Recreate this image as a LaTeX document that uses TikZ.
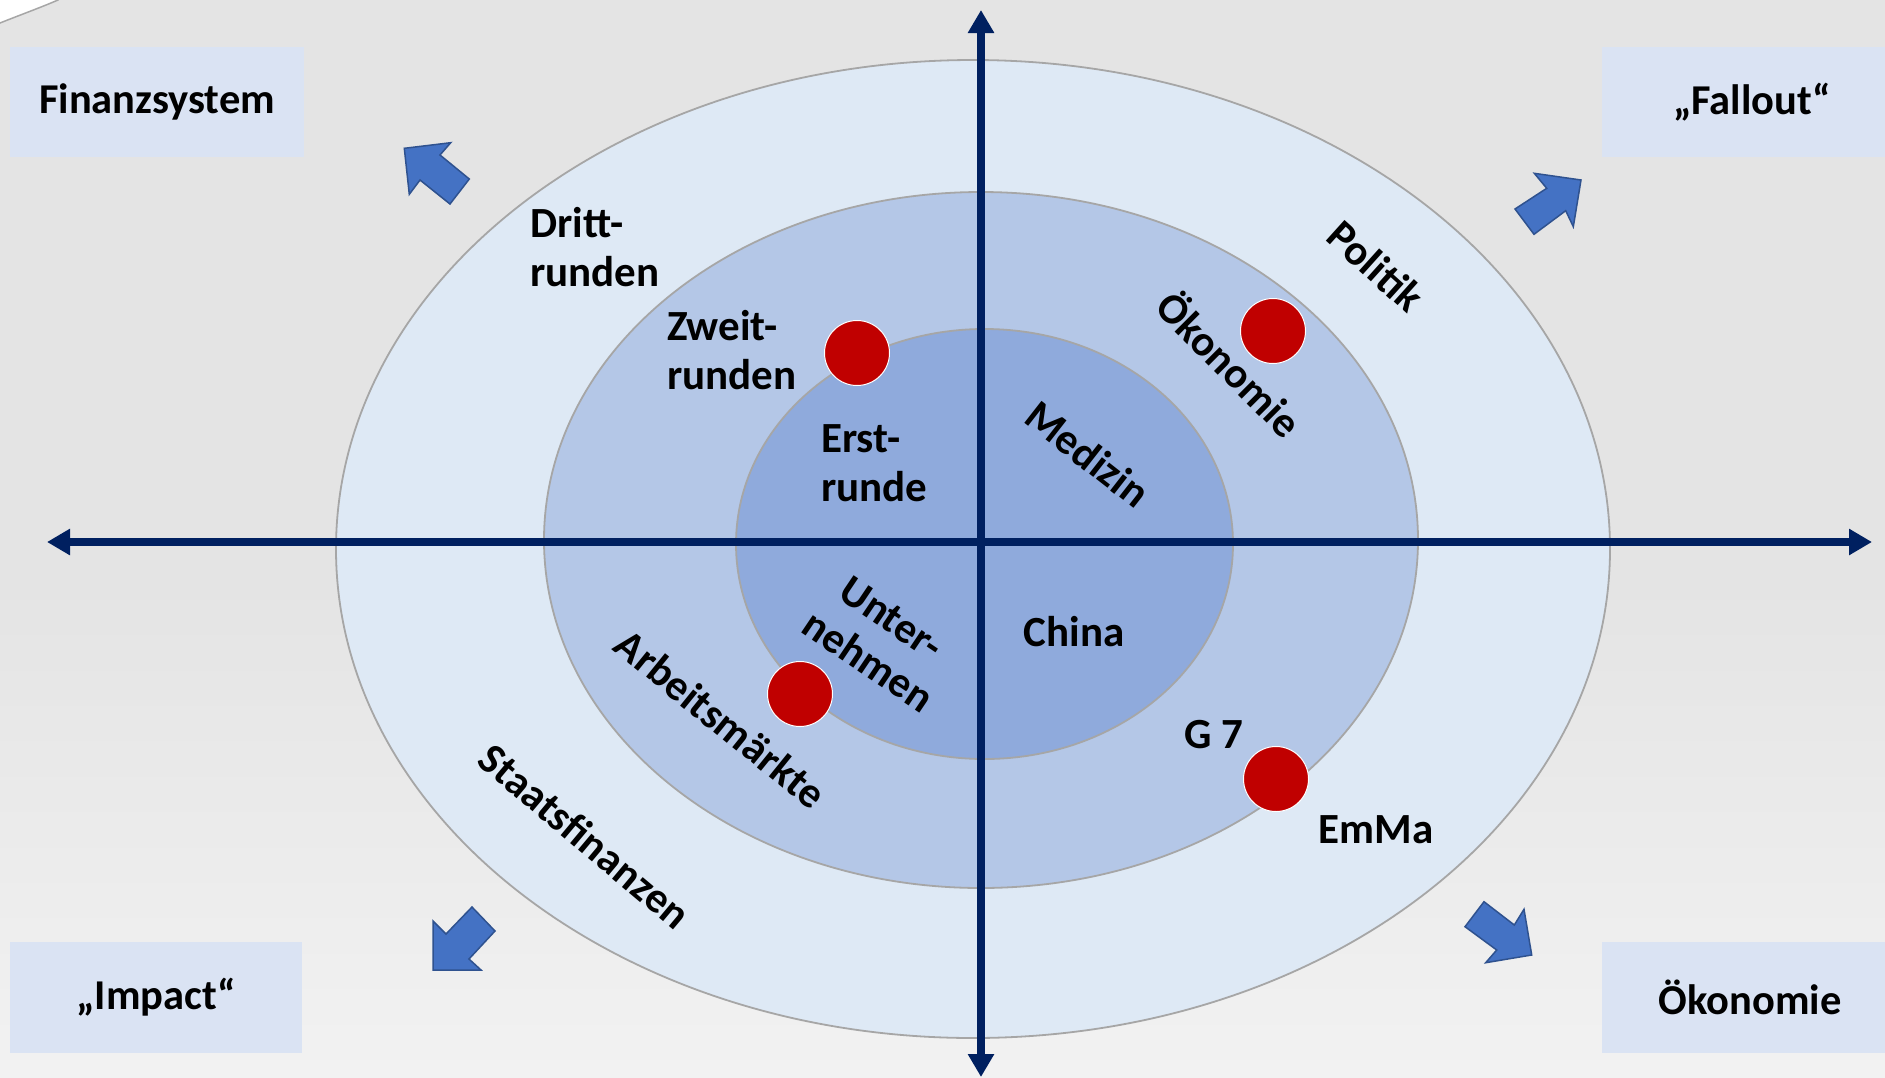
\documentclass[tikz,border=0pt]{standalone}
\usepackage{fontspec}
\setmainfont{Carlito}
\usetikzlibrary{arrows.meta,shapes.geometric}
\definecolor{bggray}{HTML}{E4E4E4}
\definecolor{bgmid}{HTML}{F2F2F2}
\definecolor{ringouter}{HTML}{DEE9F5}
\definecolor{ringmid}{HTML}{B4C7E7}
\definecolor{ringinner}{HTML}{8FAADC}
\definecolor{ringline}{HTML}{A6A6A6}
\definecolor{axisblue}{HTML}{002060}
\definecolor{boxblue}{HTML}{DAE3F3}
\definecolor{arrfill}{HTML}{4472C4}
\definecolor{arrline}{HTML}{2F528F}
\definecolor{dotred}{HTML}{C00000}
\pgfdeclareverticalshading{bgshade}{100bp}{color(0bp)=(white); color(8bp)=(white); color(25bp)=(bgmid); color(48bp)=(bggray); color(100bp)=(bggray)}
\begin{document}
\begin{tikzpicture}[x=1pt,y=-1pt,
  ring/.style={draw=ringline,line width=1.8pt},
  axis/.style={draw=axisblue,line width=7.5pt,{Triangle[length=23pt,width=25pt]}-{Triangle[length=23pt,width=25pt]}},
  lbl/.style={font=\bfseries\fontsize{43}{49}\selectfont,inner sep=0pt,text=black},
  boxlbl/.style={fill=boxblue,font=\bfseries\fontsize{42.5}{50}\selectfont,inner sep=0pt,text=black},
  dot/.style={circle,fill=dotred,draw=white,line width=1pt,minimum size=65pt,inner sep=0pt},
  blockarrow/.style={fill=arrfill,draw=arrline,line width=1.5pt,line join=miter}]
\useasboundingbox (0,0) rectangle (1885,1077);
\clip (0,0) rectangle (1885,1077);
\shade[shading=bgshade] (0,0) rectangle (1885,1077);
% corner shape
\filldraw[fill=white,draw=ringline,line width=1.5pt] (-5,-5) -- (-5,25) -- (0,23) .. controls (20,15) and (42,7) .. (58,0) -- (58,-5) -- cycle;
% rings
\path[ring,fill=ringouter] (973,549) ellipse [x radius=637pt, y radius=489pt];
\path[ring,fill=ringmid] (981,540) ellipse [x radius=437pt, y radius=348pt];
\path[ring,fill=ringinner] (984.5,544) ellipse [x radius=248.5pt, y radius=215pt];
% axes
\coordinate (top) at (981,10);
\coordinate (bottom) at (981,1077);
\coordinate (left) at (47,542);
\coordinate (right) at (1872,542);
\draw[axis] (left) -- (right);
\draw[axis] (bottom) -- (top);
% corner boxes
\node[boxlbl,minimum width=294pt,minimum height=110pt] (finanz) at (157,102) {Finanzsystem};
\path[fill=boxblue] (1602,47) rectangle (1900,157);
\node[lbl,font=\bfseries\fontsize{42.5}{50}\selectfont] (fallout) at (1752,102) {„Fallout“};
\node[boxlbl,minimum width=292pt,minimum height=111pt] (impact) at (156,997.5) {„Impact“};
\path[fill=boxblue] (1602,942) rectangle (1900,1053);
\node[lbl,font=\bfseries\fontsize{42.5}{50}\selectfont] (oekobox) at (1750,997.5) {Ökonomie};
% block arrows
\draw[blockarrow] (404.3,148.3) -- (450.7,142.7) -- (440,155) -- (469.3,179) -- (450,204) -- (420,180) -- (409.3,194.3) -- cycle;
\draw[blockarrow] (1581,180) -- (1534.3,173.3) -- (1546.7,188.3) -- (1515,209) -- (1534,234.3) -- (1565.7,210.7) -- (1573.3,226.7) -- cycle;
\draw[blockarrow] (433,970) -- (433,921) -- (446,934) -- (472,907) -- (495,931) -- (469,959) -- (481,970) -- cycle;
\draw[blockarrow] (1531.7,955) -- (1485.7,962.7) -- (1496.7,950) -- (1465,926.7) -- (1484,901.7) -- (1514.3,925) -- (1524,909.3) -- cycle;
% ring labels
\node[lbl,align=left,anchor=west] (dritt) at (530,247) {Dritt-\\runden};
\node[lbl,align=left,anchor=west] (zweit) at (667,350) {Zweit-\\runden};
\node[lbl,align=left,anchor=west] (erst) at (821,463) {Erst-\\runde};
\node[lbl,rotate=-38] (medizin) at (1088,454) {Medizin};
\node[lbl,rotate=-45] (oeko) at (1231,363) {Ökonomie};
\node[lbl,rotate=-42] (politik) at (1376,266) {Politik};
\node[lbl] (china) at (1074,632) {China};
\node[lbl,align=left,rotate=-34] (unter) at (882,641) {\hspace{12pt}Unter-\\nehmen};
\node[lbl,rotate=-39] (arbeit) at (721,719) {Arbeitsmärkte};
\node[lbl,rotate=-40] (staat) at (585,836) {Staatsfinanzen};
\node[lbl] (g7) at (1214,735) {G 7};
\node[lbl] (emma) at (1376,830) {EmMa};
% red dots
\node[dot] (d1) at (857,353) {};
\node[dot] (d2) at (1273,331) {};
\node[dot] (d3) at (800,694) {};
\node[dot] (d4) at (1276,779) {};
\end{tikzpicture}
\end{document}
